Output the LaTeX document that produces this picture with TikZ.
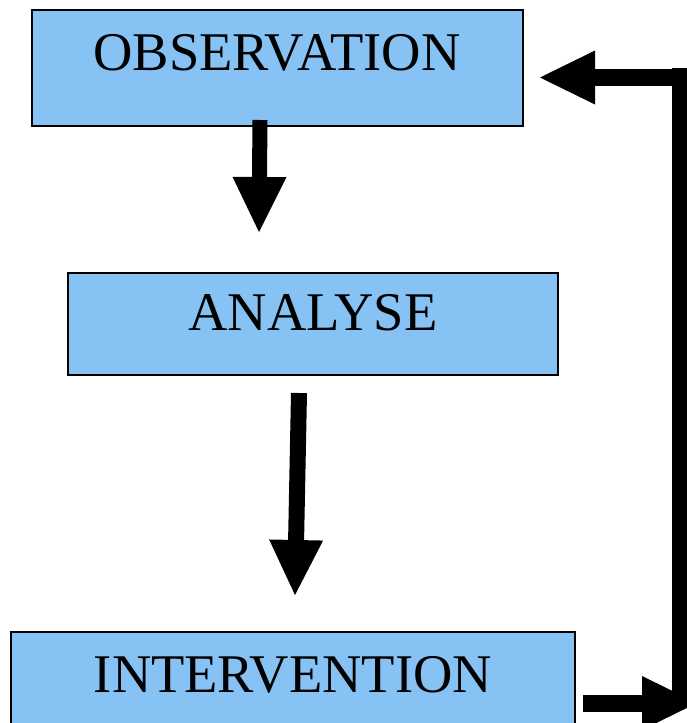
\documentclass[tikz,border=0pt]{standalone}
\usepackage{fontspec}
\setmainfont{Liberation Serif}
\usetikzlibrary{arrows.meta}
\definecolor{boxblue}{RGB}{135,194,244}
\begin{document}
\begin{tikzpicture}[x=1pt,y=-1pt,
  box/.style={draw=black, line width=1.6pt, fill=boxblue, rectangle, inner sep=0pt},
  lbl/.style={anchor=base, inner sep=0pt, font=\fontsize{54.5}{60}\selectfont},
  blockarrow/.style={line width=#1, -{Triangle[width=54pt,length=55pt,line width=0pt]}},
  bar/.style={line width=#1}]
\useasboundingbox (0,0) rectangle (687,723);
\clip (0,0) rectangle (687,723);
\fill[white] (0,0) rectangle (687,723);
% boxes
\node[box, minimum width=491pt, minimum height=116pt] (obs) at (277.5,68) {};
\node[lbl] (obst) at (277,70) {OBSERVATION};
\node[box, minimum width=490pt, minimum height=102pt] (ana) at (313,324) {};
\node[lbl] (anat) at (313,330) {ANALYSE};
\node[box, minimum width=564pt, minimum height=120pt] (int) at (293,692) {};
\node[lbl] (intt) at (293,692) {INTERVENTION};
% arrow obs -> ana
\coordinate (a1s) at (260,120);
\coordinate (a1e) at (259,232);
\draw[blockarrow=15pt] (a1s) -- (a1e);
% arrow ana -> int
\coordinate (a2s) at (299,393);
\coordinate (a2e) at (295,595);
\draw[blockarrow=16pt] (a2s) -- (a2e);
% feedback loop
\coordinate (fbtop) at (679.5,68);
\coordinate (fbbot) at (679.5,703);
\draw[bar=15pt] (fbbot) -- (fbtop);
\coordinate (fbcorner) at (672,77.5);
\coordinate (fbtip) at (540,77.5);
\draw[blockarrow=17pt] (fbcorner) -- (fbtip);
\coordinate (outs) at (583,703);
\coordinate (oute) at (697,703);
\draw[blockarrow=17pt] (outs) -- (oute);
\end{tikzpicture}
\end{document}
